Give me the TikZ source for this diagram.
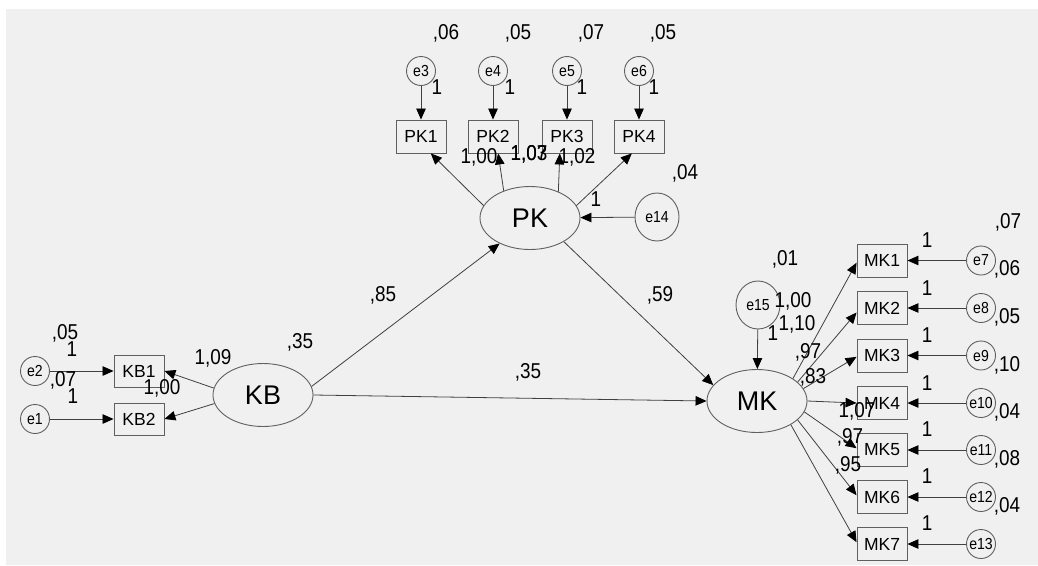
\documentclass[tikz,border=0pt]{standalone}
\usepackage{fontspec}
\setmainfont{Liberation Sans}
\newfontfamily\numfont[FakeStretch=0.88]{Liberation Sans}
\usetikzlibrary{shapes.geometric,arrows.meta}
\definecolor{bgc}{HTML}{F0F0F0}
\definecolor{lnc}{HTML}{606060}
\definecolor{arc}{HTML}{404040}
\begin{document}
\begin{tikzpicture}[x=1pt,y=-1pt,
  ind/.style={rectangle,draw=lnc,line width=0.9pt,minimum width=50pt,minimum height=33pt,inner sep=0pt,font=\fontsize{17.5}{17.5}\selectfont},
  err/.style={circle,draw=lnc,line width=0.9pt,minimum size=29pt,inner sep=0pt,font=\numfont\fontsize{16}{16}\selectfont},
  errbig/.style={ellipse,draw=lnc,line width=0.9pt,minimum width=44pt,minimum height=48pt,inner sep=0pt,font=\numfont\fontsize{16}{16}\selectfont},
  lat/.style={ellipse,draw=lnc,line width=0.9pt,minimum width=100pt,minimum height=63pt,inner sep=0pt,font=\fontsize{27}{27}\selectfont},
  num/.style={inner sep=0pt,font=\numfont\fontsize{21.5}{21.5}\selectfont},
  arr/.style={draw=arc,line width=0.8pt,-{Triangle[length=11pt,width=9.5pt,color=black]}}
]
\useasboundingbox (0,0) rectangle (1038,565);
\fill[bgc] (6,9) rectangle (1038,565);

% latent variables
\node[lat] (PK) at (530,218) {PK};
\node[lat] (KB) at (263,395) {KB};
\node[lat] (MK) at (757,401) {MK};

% PK indicators
\node[ind] (PK1) at (421,136.5) {PK1};
\node[ind] (PK2) at (493,136.5) {PK2};
\node[ind] (PK3) at (567,136.5) {PK3};
\node[ind] (PK4) at (639,136.5) {PK4};
\node[err] (e3) at (421,71) {e3};
\node[err] (e4) at (493,71) {e4};
\node[err] (e5) at (567,71) {e5};
\node[err] (e6) at (639,71) {e6};
\node[errbig] (e14) at (657,217) {e14};

% KB indicators
\node[ind,minimum height=32pt] (KB1) at (139,371) {KB1};
\node[ind,minimum height=32pt] (KB2) at (139,419) {KB2};
\node[err] (e2) at (35,371) {e2};
\node[err] (e1) at (35,419) {e1};

% MK indicators
\node[ind] (MK1) at (882,260.5) {MK1};
\node[ind] (MK2) at (882,308) {MK2};
\node[ind] (MK3) at (882,355.5) {MK3};
\node[ind] (MK4) at (882,403) {MK4};
\node[ind] (MK5) at (882,450) {MK5};
\node[ind] (MK6) at (882,497) {MK6};
\node[ind] (MK7) at (882,544) {MK7};
\node[err] (e7) at (981,260.5) {e7};
\node[err] (e8) at (981,308) {e8};
\node[err] (e9) at (981,355.5) {e9};
\node[err] (e10) at (981,403) {e10};
\node[err] (e11) at (981,450) {e11};
\node[err] (e12) at (981,497) {e12};
\node[err] (e13) at (981,544) {e13};
\node[errbig] (e15) at (758,305) {e15};

% error arrows
\draw[arr] (e3) -- (PK1);
\draw[arr] (e4) -- (PK2);
\draw[arr] (e5) -- (PK3);
\draw[arr] (e6) -- (PK4);
\draw[arr] (e14) -- (PK);
\draw[arr] (e2) -- (KB1);
\draw[arr] (e1) -- (KB2);
\draw[arr] (e15) -- (MK);
\draw[arr] (e7) -- (MK1);
\draw[arr] (e8) -- (MK2);
\draw[arr] (e9) -- (MK3);
\draw[arr] (e10) -- (MK4);
\draw[arr] (e11) -- (MK5);
\draw[arr] (e12) -- (MK6);
\draw[arr] (e13) -- (MK7);

% loadings
\draw[arr] (PK.165) -- (PK1.-60);
\draw[arr] (PK.134) -- (PK2.-73);
\draw[arr] (PK.43) -- (PK3.-113);
\draw[arr] (PK.15) -- (PK4.-113);
\draw[arr] (KB.172) -- (KB1.east);
\draw[arr] (KB.190) -- (KB2.east);
\draw[arr] (MK.32) -- (MK1.185);
\draw[arr] (MK.25) -- (MK2.190);
\draw[arr] (MK.15) -- (MK3.183);
\draw[arr] (MK.east) -- (MK4.west);
\draw[arr] (MK.-13) -- (MK5.176);
\draw[arr] (MK.-25) -- (MK6.176);
\draw[arr] (MK.-35) -- (MK7.176);

% structural paths
\draw[arr] (KB.10) -- (PK.220);
\draw[arr] (PK.-35) -- (MK.160);
\draw[arr] (KB.east) -- (MK.west);

% labels: PK
\node[num] (v3) at (446,33) {,06};
\node[num] (v4) at (518,33) {,05};
\node[num] (v5) at (591,33) {,07};
\node[num] (v6) at (663,33) {,05};
\node[num] (o3) at (437,87) {1};
\node[num] (o4) at (510,87) {1};
\node[num] (o5) at (582,87) {1};
\node[num] (o6) at (654,87) {1};
\node[num] (l1) at (479,157) {1,00};
\node[num] (l2) at (529,154) {1,07};
\node[num] (l3) at (529,154) {1,03};
\node[num] (l4) at (577,157) {1,02};
\node[num] (v14) at (685,173) {,04};
\node[num] (o14) at (596,199) {1};

% structural labels
\node[num] (s1) at (383,295) {,85};
\node[num] (s2) at (660,295) {,59};
\node[num] (s3) at (528,372) {,35};

% KB labels
\node[num] (v2) at (65,333) {,05};
\node[num] (o2) at (72,349) {1};
\node[num] (v1) at (63,380) {,07};
\node[num] (o1) at (73,396) {1};
\node[num] (k1) at (213,358) {1,09};
\node[num] (k2) at (162,388) {1,00};
\node[num] (vKB) at (300,342) {,35};

% MK labels
\node[num] (v15) at (785,259) {,01};
\node[num] (m1) at (793,301) {1,00};
\node[num] (m2) at (797,324) {1,10};
\node[num] (o15) at (773,333) {1};
\node[num] (m3) at (808,352) {,97};
\node[num] (m4) at (813,377) {,83};
\node[num] (m5) at (857,411) {1,07};
\node[num] (m6) at (850,437) {,97};
\node[num] (m7) at (848,465) {,95};

\node[num] (o7) at (927,240) {1};
\node[num] (o8) at (927,288) {1};
\node[num] (o9) at (927,335) {1};
\node[num] (o10) at (927,383) {1};
\node[num] (o11) at (927,429) {1};
\node[num] (o12) at (927,476) {1};
\node[num] (o13) at (927,523) {1};

\node[num] (v7) at (1008,222) {,07};
\node[num] (v8) at (1007,269) {,06};
\node[num] (v9) at (1007,317) {,05};
\node[num] (v10) at (1007,365) {,10};
\node[num] (v11) at (1007,412) {,04};
\node[num] (v12) at (1007,459) {,08};
\node[num] (v13) at (1007,506) {,04};
\end{tikzpicture}
\end{document}
